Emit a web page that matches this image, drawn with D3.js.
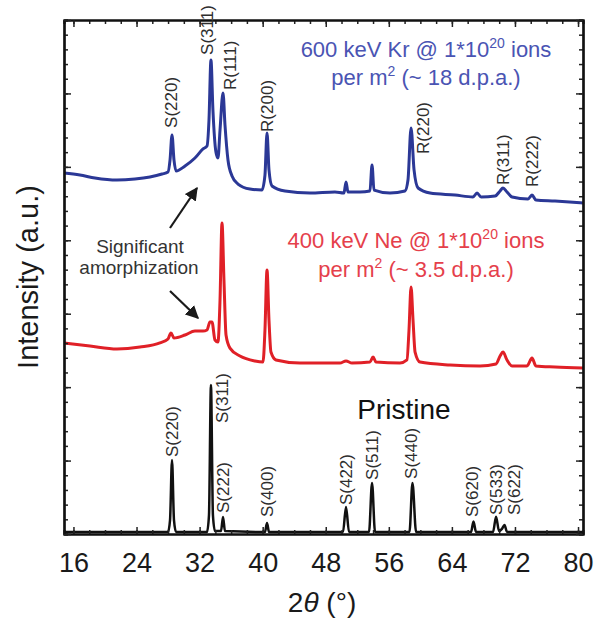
<!DOCTYPE html>
<html>
<head>
<meta charset="utf-8">
<script src="https://cdn.jsdelivr.net/npm/d3@7"></script>
<style>
  body { margin: 0; background: #fff; }
  svg text { font-family: "Liberation Sans", Arial, Helvetica, sans-serif; }
</style>
</head>
<body>
<div id="chart"></div>
<script>
// ---- data: [2theta (deg), intensity (a.u.)] ----
var xTickValues = [16, 24, 32, 40, 48, 56, 64, 72, 80];
var yTickValues = [0, 5, 10, 15, 20, 25, 30, 35];

var kr600Spectrum = [
    [14.8, 24.58], [16.82, 24.44], [18.73, 24.24], [21.52, 24.10], [23.80, 24.17],
    [25.70, 24.31], [27.23, 24.51], [27.99, 24.65], [28.25, 25.47], [28.50, 27.17],
    [28.75, 25.47], [29.01, 24.72], [30.15, 25.06], [31.41, 25.60], [32.43, 26.22],
    [32.94, 26.42], [33.19, 28.19], [33.44, 32.28], [33.69, 28.87], [34.07, 26.01],
    [34.33, 25.60], [34.59, 27.51], [34.97, 30.03], [35.22, 27.85], [35.60, 25.47],
    [36.11, 24.38], [36.87, 23.83], [38.39, 23.49], [39.91, 23.42], [40.29, 24.44],
    [40.55, 27.31], [40.80, 24.79], [41.18, 23.70], [42.83, 23.36], [46.00, 23.22],
    [49.17, 23.29], [50.31, 23.22], [50.57, 23.97], [50.82, 23.29], [52.34, 23.29],
    [53.61, 23.36], [53.87, 25.13], [54.12, 23.42], [56.15, 23.22], [58.05, 23.36],
    [58.43, 24.10], [58.82, 27.65], [59.20, 24.79], [59.71, 23.56], [61.23, 23.22],
    [64.40, 23.08], [66.68, 22.95], [67.19, 23.22], [67.70, 22.95], [69.48, 23.01],
    [70.11, 23.36], [70.48, 23.56], [70.99, 23.29], [71.63, 22.95], [73.66, 22.81],
    [74.16, 23.08], [74.66, 22.74], [77.08, 22.67], [80.63, 22.54]
];

var ne400Spectrum = [
    [14.8, 13.01], [18.09, 12.80], [21.52, 12.60], [24.44, 12.73], [26.97, 13.01],
    [27.99, 13.28], [28.37, 13.69], [28.75, 13.35], [30.15, 13.55], [31.41, 13.82],
    [32.43, 13.82], [32.94, 13.89], [33.31, 14.44], [33.57, 14.44], [33.95, 13.21],
    [34.33, 13.07], [34.59, 15.93], [34.84, 21.18], [35.09, 17.30], [35.35, 13.55],
    [35.85, 12.66], [37.12, 12.12], [39.02, 11.78], [40.04, 11.71], [40.29, 13.89],
    [40.55, 17.98], [40.80, 14.57], [41.05, 12.39], [41.69, 11.85], [44.73, 11.64],
    [49.80, 11.64], [50.57, 11.78], [51.33, 11.64], [53.61, 11.71], [54.00, 12.05],
    [54.37, 11.71], [57.41, 11.64], [58.30, 11.85], [58.56, 13.89], [58.82, 16.82],
    [59.07, 14.57], [59.33, 12.39], [59.96, 11.71], [63.77, 11.51], [67.57, 11.44],
    [69.60, 11.58], [70.11, 12.12], [70.48, 12.39], [70.99, 11.85], [71.63, 11.44],
    [73.53, 11.44], [74.16, 11.98], [74.66, 11.44], [77.08, 11.37], [80.63, 11.30]
];

var pristineSpectrum = [
    [14.8, 0.14], [27.99, 0.14], [28.25, 0.95], [28.50, 5.04], [28.75, 0.95],
    [29.01, 0.14], [32.94, 0.14], [33.19, 1.29], [33.44, 10.15], [33.69, 1.29],
    [33.95, 0.20], [34.71, 0.20], [34.97, 1.16], [35.22, 0.20], [40.29, 0.14],
    [40.55, 0.75], [40.80, 0.14], [50.19, 0.14], [50.57, 1.84], [50.95, 0.14],
    [53.49, 0.14], [53.87, 3.47], [54.25, 0.14], [58.62, 0.14], [59.00, 3.47],
    [59.46, 0.14], [66.43, 0.14], [66.74, 0.85], [67.06, 0.14], [69.22, 0.14],
    [69.60, 1.18], [69.98, 0.20], [70.35, 0.35], [70.67, 0.61], [71.00, 0.14],
    [80.63, 0.14]
];

// peak labels: [text, 2theta, intensity where the label starts]
var krPeakLabels = [
    ['S(220)', 28.37, 27.65], ['S(311)', 32.94, 32.62], ['R(111)', 35.85, 30.23],
    ['R(200)', 40.55, 27.38], ['R(220)', 60.40, 25.88], ['R(311)', 70.55, 23.76],
    ['R(222)', 74.23, 23.63]
];
var pristinePeakLabels = [
    ['S(220)', 28.50, 5.24], ['S(311)', 34.84, 7.56], ['S(222)', 34.97, 1.43],
    ['S(400)', 40.55, 1.16], ['S(422)', 50.57, 1.97], ['S(511)', 53.87, 3.68],
    ['S(440)', 58.82, 3.75], ['S(620)', 66.56, 1.16], ['S(533)', 69.54, 1.29],
    ['S(622)', 71.83, 1.29]
];

// ---- chart ----
var width = 611;
var height = 624;

var svg = d3.select('#chart').append('svg')
    .attr('width', width)
    .attr('height', height);

var x = d3.scaleLinear().domain([14.8, 80.63]).range([64, 583]);
var y = d3.scaleLinear().domain([0, 35]).range([534, 20]);

var line = d3.line()
    .x(function (d) { return x(d[0]); })
    .y(function (d) { return y(d[1]); })
    .curve(d3.curveMonotoneX);

// spectra
svg.append('path').datum(kr600Spectrum)
    .attr('d', line).attr('fill', 'none')
    .attr('stroke', '#2b3896').attr('stroke-width', 3).attr('stroke-linejoin', 'round');
svg.append('path').datum(ne400Spectrum)
    .attr('d', line).attr('fill', 'none')
    .attr('stroke', '#e02027').attr('stroke-width', 3).attr('stroke-linejoin', 'round');
svg.append('path').datum(pristineSpectrum)
    .attr('d', line).attr('fill', 'none')
    .attr('stroke', '#111').attr('stroke-width', 2.5).attr('stroke-linejoin', 'round');

// axes, ticks pointing inward on all four sides
function styleAxis(g) {
    g.select('.domain').attr('stroke', '#111').attr('stroke-width', 2.2);
    g.selectAll('.tick line').attr('stroke', '#222').attr('stroke-width', 1.5);
}

var xMinor = d3.range(16, 81, 2);
var yMinor = d3.range(0, 36, 1);

svg.append('g').attr('transform', 'translate(0,534)')
    .call(d3.axisBottom(x).tickValues(xMinor).tickSize(-4).tickFormat(''))
    .call(styleAxis);
svg.append('g').attr('transform', 'translate(0,534)')
    .call(d3.axisBottom(x).tickValues(xTickValues).tickSize(-7).tickPadding(19).tickSizeOuter(0))
    .call(styleAxis)
    .call(function (g) {
        g.selectAll('text').attr('font-size', 27).attr('fill', '#1a1a1a')
            .style('font-family', '"Liberation Sans", Arial, sans-serif');
    });
svg.append('g').attr('transform', 'translate(0,20)')
    .call(d3.axisTop(x).tickValues(xMinor).tickSize(-4).tickFormat(''))
    .call(styleAxis);
svg.append('g').attr('transform', 'translate(0,20)')
    .call(d3.axisTop(x).tickValues(xTickValues).tickSize(-7).tickFormat('').tickSizeOuter(0))
    .call(styleAxis);
svg.append('g').attr('transform', 'translate(64,0)')
    .call(d3.axisLeft(y).tickValues(yMinor).tickSize(-4).tickFormat(''))
    .call(styleAxis);
svg.append('g').attr('transform', 'translate(64,0)')
    .call(d3.axisLeft(y).tickValues(yTickValues).tickSize(-7).tickFormat('').tickSizeOuter(0))
    .call(styleAxis);
svg.append('g').attr('transform', 'translate(583,0)')
    .call(d3.axisRight(y).tickValues(yMinor).tickSize(-4).tickFormat(''))
    .call(styleAxis);
svg.append('g').attr('transform', 'translate(583,0)')
    .call(d3.axisRight(y).tickValues(yTickValues).tickSize(-7).tickFormat('').tickSizeOuter(0))
    .call(styleAxis);

// axis titles
var xTitle = svg.append('text')
    .attr('x', 322).attr('y', 612)
    .attr('text-anchor', 'middle').attr('font-size', 28).attr('fill', '#1a1a1a');
xTitle.append('tspan').attr('font-style', 'normal').text('2');
xTitle.append('tspan').attr('font-style', 'italic').text('\u03B8');
xTitle.append('tspan').attr('font-style', 'normal').text(' (\u00B0)');

svg.append('text')
    .attr('transform', 'translate(38,277) rotate(-90)')
    .attr('text-anchor', 'middle').attr('font-size', 29).attr('fill', '#1a1a1a')
    .text('Intensity (a.u.)');

// rotated peak labels
function peakLabels(labels) {
    svg.append('g').selectAll('text')
        .data(labels)
        .enter()
        .append('text')
        .attr('transform', function (d) { return 'translate(' + x(d[1]) + ',' + y(d[2]) + ') rotate(-90)'; })
        .attr('dy', '0.35em')
        .attr('font-size', 17)
        .attr('fill', '#2e2e2e')
        .text(function (d) { return d[0]; });
}
peakLabels(krPeakLabels);
peakLabels(pristinePeakLabels);

// condition annotations
function condition(lines, cx, y0, dy, color) {
    lines.forEach(function (l, i) {
        var t = svg.append('text')
            .attr('x', cx).attr('y', y0 + i * dy)
            .attr('text-anchor', 'middle').attr('font-size', 22).attr('fill', color);
        t.append('tspan').text(l[0]);
        t.append('tspan').attr('font-size', 14).attr('dy', -9).text(l[1]);
        t.append('tspan').attr('dy', 9).text(l[2]);
    });
}
condition([['600 keV Kr @ 1*10', '20', ' ions'], ['per m', '2', ' (~ 18 d.p.a.)']],
    426, 57, 28, '#4a54b3');
condition([['400 keV Ne @ 1*10', '20', ' ions'], ['per m', '2', ' (~ 3.5 d.p.a.)']],
    416, 248, 29, '#e5404b');

svg.append('text')
    .attr('x', 404).attr('y', 419)
    .attr('text-anchor', 'middle').attr('font-size', 28).attr('fill', '#111')
    .text('Pristine');

// amorphization note with arrows
svg.append('text').attr('x', 140).attr('y', 253)
    .attr('text-anchor', 'middle').attr('font-size', 19).attr('fill', '#333')
    .text('Significant');
svg.append('text').attr('x', 139).attr('y', 274)
    .attr('text-anchor', 'middle').attr('font-size', 19).attr('fill', '#333')
    .text('amorphization');

svg.append('defs').append('marker')
    .attr('id', 'arrowhead')
    .attr('viewBox', '0 0 10 10')
    .attr('refX', 9).attr('refY', 5)
    .attr('markerWidth', 6).attr('markerHeight', 6)
    .attr('markerUnits', 'strokeWidth')
    .attr('orient', 'auto')
    .append('path').attr('d', 'M0,0L10,5L0,10Z').attr('fill', '#1a1a1a');

[[170, 228, 197, 188], [170, 291, 198, 318]].forEach(function (a) {
    svg.append('line')
        .attr('x1', a[0]).attr('y1', a[1]).attr('x2', a[2]).attr('y2', a[3])
        .attr('stroke', '#1a1a1a').attr('stroke-width', 2.2)
        .attr('marker-end', 'url(#arrowhead)');
});
</script>
</body>
</html>
